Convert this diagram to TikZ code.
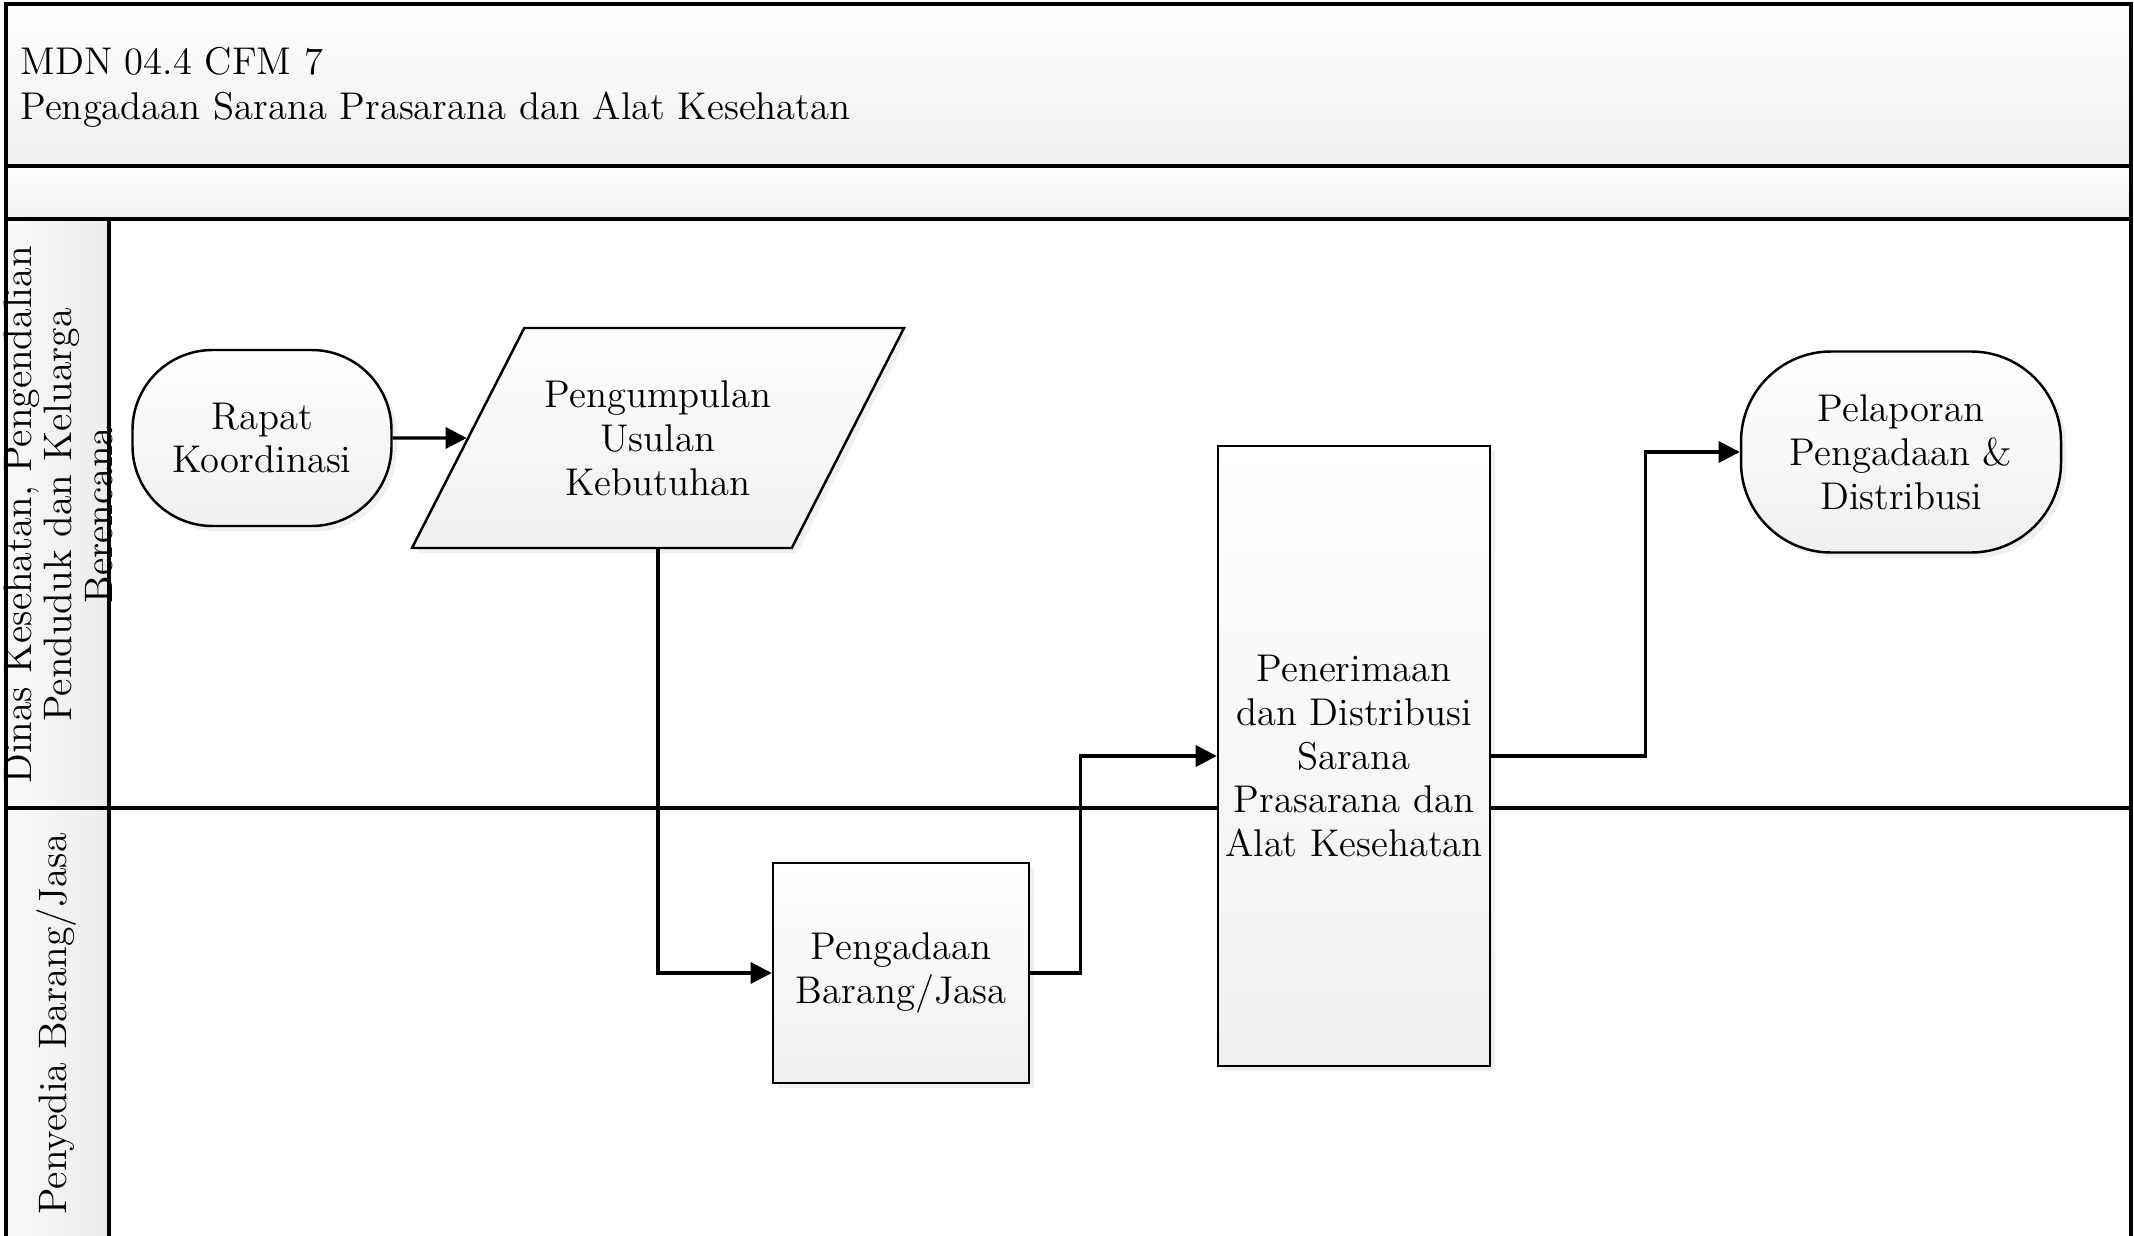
\documentclass[tikz,border=0pt]{standalone}
\usetikzlibrary{arrows.meta,positioning,shapes.geometric,shadows}

\begin{document}
\begin{tikzpicture}[every node/.style={font=\fontsize{11}{12.5}\selectfont},
  lane/.style={line width=.9pt},
  act/.style={draw,line width=.7pt,top color=white,bottom color=gray!12,align=center,inner sep=2pt,
    drop shadow={opacity=.12,shadow xshift=1.5pt,shadow yshift=-1.5pt}},
  term/.style={act,rounded corners=.8cm},
  flow/.style={line width=.9pt,-{Triangle[length=6pt,width=6pt]}}]
\useasboundingbox (0,0) rectangle (21.34,-12.36);
% header and lanes
\shade[top color=white,bottom color=gray!12] (0.06,-0.04) rectangle (21.31,-1.66);
\shade[top color=white,bottom color=gray!12] (0.06,-1.66) rectangle (21.31,-2.19);
\shade[left color=gray!5,right color=gray!15] (0.06,-2.19) rectangle (1.09,-12.40);
\draw[lane] (0.06,-0.04) rectangle (21.31,-1.66);
\draw[lane] (0.06,-1.66) rectangle (21.31,-2.19);
\draw[lane] (0.06,-2.19) -- (0.06,-12.40);
\draw[lane] (21.31,-2.19) -- (21.31,-12.40);
\draw[lane] (1.09,-2.19) -- (1.09,-12.40);
\draw[lane] (0.06,-8.08) -- (21.31,-8.08);
\node[anchor=west,align=left,font=\fontsize{11}{12.8}\selectfont] (title) at (0.08,-0.87) {MDN 04.4 CFM 7\\Pengadaan Sarana Prasarana dan Alat Kesehatan};
\node[rotate=90,align=center,font=\fontsize{11.3}{11.5}\selectfont] (lane1) at (0.58,-5.15) {Dinas Kesehatan, Pengendalian\\Penduduk dan Keluarga\\Berencana};
\node[rotate=90,font=\fontsize{11.3}{12.5}\selectfont] (lane2) at (0.57,-10.24) {Penyedia Barang/Jasa};
% steps
\node[term,minimum width=2.59cm,minimum height=1.76cm] (rapat) at (2.62,-4.38) {Rapat\\Koordinasi};
\node[act,trapezium,trapezium left angle=49,trapezium right angle=131,trapezium stretches body,
  minimum width=4.92cm,minimum height=2.2cm] (usulan) at (6.58,-4.38) {Pengumpulan\\Usulan\\Kebutuhan};
\node[act,minimum width=2.56cm,minimum height=2.2cm] (pengadaan) at (9.01,-9.73) {Pengadaan\\Barang/Jasa};
\node[act,minimum width=2.72cm,minimum height=6.2cm] (terima) at (13.54,-7.56) {Penerimaan\\dan Distribusi\\Sarana\\Prasarana dan\\Alat Kesehatan};
\node[term,rounded corners=.9cm,minimum width=3.2cm,minimum height=2.01cm] (lapor) at (19.01,-4.52) {Pelaporan\\Pengadaan \&\\Distribusi};
% flows
\draw[flow] (rapat) -- (usulan);
\draw[flow] (usulan.south) |- (pengadaan);
\draw[flow] (pengadaan.east) -- ++(0.5,0) |- (terima);
\draw[flow] (terima.east) -- ++(1.54,0) |- (lapor);
\end{tikzpicture}
\end{document}
